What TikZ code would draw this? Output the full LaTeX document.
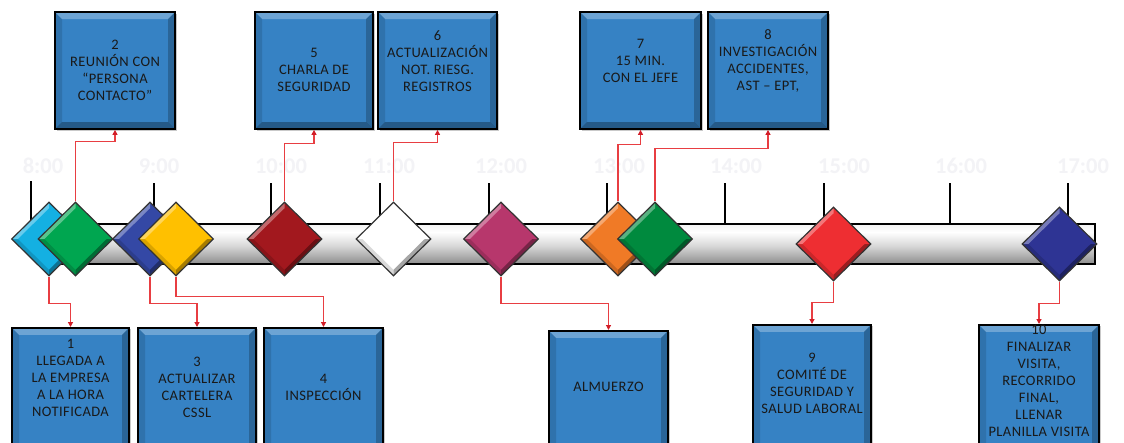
\documentclass[tikz,border=0pt]{standalone}
\usepackage{fontspec}
\setmainfont{Carlito}
\usetikzlibrary{shapes.geometric,arrows.meta,shadows}
\definecolor{boxblue}{RGB}{54,130,196}
\definecolor{conred}{RGB}{232,62,66}
\definecolor{tipred}{RGB}{210,30,40}
\definecolor{cCyan}{RGB}{20,176,226}
\definecolor{cGreen}{RGB}{0,166,80}
\definecolor{cBlue}{RGB}{52,72,165}
\definecolor{cYellow}{RGB}{255,192,0}
\definecolor{cDarkRed}{RGB}{162,24,30}
\definecolor{cWhite}{RGB}{255,255,255}
\definecolor{cMagenta}{RGB}{183,55,108}
\definecolor{cOrange}{RGB}{240,122,38}
\definecolor{cGreenB}{RGB}{0,138,62}
\definecolor{cRed}{RGB}{238,46,50}
\definecolor{cNavy}{RGB}{46,52,148}
\definecolor{lblgray}{RGB}{243,243,246}
\pgfdeclareverticalshading{barshade}{100bp}{color(0bp)=(black!55); color(8bp)=(black!72); color(25bp)=(black!45); color(48bp)=(black!15); color(65bp)=(white); color(82bp)=(black!8); color(100bp)=(black!35)}
\tikzset{
  evbox/.style={draw=black, line width=1.8pt, fill=boxblue, inner sep=0pt,
    drop shadow={shadow xshift=1.5pt,shadow yshift=-1.5pt,opacity=.35,fill=black!60},
    path picture={
      \fill[white,opacity=.28] (path picture bounding box.north west) -- (path picture bounding box.north east) -- ([xshift=-7pt,yshift=-7pt]path picture bounding box.north east) -- ([xshift=7pt,yshift=-7pt]path picture bounding box.north west) -- cycle;
      \fill[black,opacity=.12] (path picture bounding box.north west) -- ([xshift=7pt,yshift=-7pt]path picture bounding box.north west) -- ([xshift=7pt,yshift=7pt]path picture bounding box.south west) -- (path picture bounding box.south west) -- cycle;
      \fill[black,opacity=.22] (path picture bounding box.north east) -- ([xshift=-7pt,yshift=-7pt]path picture bounding box.north east) -- ([xshift=-7pt,yshift=7pt]path picture bounding box.south east) -- (path picture bounding box.south east) -- cycle;
      \fill[black,opacity=.3] (path picture bounding box.south west) -- ([xshift=7pt,yshift=7pt]path picture bounding box.south west) -- ([xshift=-7pt,yshift=7pt]path picture bounding box.south east) -- (path picture bounding box.south east) -- cycle;
    }},
  txt/.style={align=center, font=\fontsize{14.5}{17}\selectfont\addfontfeatures{LetterSpace=3}, inner sep=0pt, text=black!90},
  tlbl/.style={font=\fontsize{22.5}{27}\selectfont\bfseries, text=lblgray, inner sep=0pt},
  tickline/.style={draw=black, line width=1.8pt},
  gem/.style={diamond, draw=black!80, line width=1.2pt, fill=#1, minimum width=75pt, minimum height=74pt, inner sep=0pt,
    path picture={
      \fill[white,opacity=.35] (path picture bounding box.west) -- (path picture bounding box.north) -- ([yshift=-6pt]path picture bounding box.north) -- ([xshift=6pt]path picture bounding box.west) -- cycle;
      \fill[black,opacity=.35] (path picture bounding box.east) -- (path picture bounding box.south) -- ([yshift=6pt]path picture bounding box.south) -- ([xshift=-6pt]path picture bounding box.east) -- cycle;
      \fill[black,opacity=.15] (path picture bounding box.west) -- (path picture bounding box.south) -- ([yshift=6pt]path picture bounding box.south) -- ([xshift=6pt]path picture bounding box.west) -- cycle;
    }},
  conn/.style={draw=conred, line width=1.2pt, -{Triangle[length=5pt,width=5pt,color=tipred]}}
}
\begin{document}
\begin{tikzpicture}[x=1pt,y=1pt]
\useasboundingbox (0,0) rectangle (1124,-442);
\clip (0,0) rectangle (1124,-442);
\fill[white] (0,0) rectangle (1124,-442);

% time labels
\node[tlbl] (h8)  at (43,-166)  {8:00};
\node[tlbl] (h9)  at (159,-166) {9:00};
\node[tlbl] (h10) at (281,-166) {10:00};
\node[tlbl] (h11) at (389,-166) {11:00};
\node[tlbl] (h12) at (501,-166) {12:00};
\node[tlbl] (h13) at (619,-166) {13:00};
\node[tlbl] (h14) at (736,-166) {14:00};
\node[tlbl] (h15) at (844,-166) {15:00};
\node[tlbl] (h16) at (961,-166) {16:00};
\node[tlbl] (h17) at (1083,-166) {17:00};

% ticks
\foreach \tx in {154,271,380,489,607,725,824,950,1068}
  \draw[tickline] (\tx,-183) -- (\tx,-225);
\draw[tickline] (31,-181) -- (31,-225);

% bar
\shade[shading=barshade] (40,-224) rectangle (1095,-264);
\draw[black, line width=1.5pt] (40,-224) rectangle (1095,-264);

% diamonds
\node[gem=cCyan]    (m1)  at (49,-239)    {};
\node[gem=cGreen]   (m2)  at (75.5,-239)  {};
\node[gem=cBlue]    (m3)  at (150,-239)   {};
\node[gem=cYellow]  (m4)  at (176,-239)   {};
\node[gem=cDarkRed] (m5)  at (284.5,-239) {};
\node[gem=cWhite]   (m6)  at (393.5,-239) {};
\node[gem=cMagenta] (mA)  at (501,-239)   {};
\node[gem=cOrange]  (m7)  at (618,-239)   {};
\node[gem=cGreenB]  (m8)  at (655,-239)   {};
\node[gem=cRed]     (m9)  at (833.5,-244) {};
\node[gem=cNavy]    (m10) at (1059.5,-244) {};

% top boxes
\node[evbox, minimum width=120pt, minimum height=117pt] (b2) at (115,-70.5) {};
\node[evbox, minimum width=118pt, minimum height=117pt] (b5) at (314,-70.5) {};
\node[evbox, minimum width=119pt, minimum height=117pt] (b6) at (437.5,-70.5) {};
\node[evbox, minimum width=121pt, minimum height=117pt] (b7) at (640.5,-70.5) {};
\node[evbox, minimum width=120pt, minimum height=117pt] (b8) at (768,-70.5) {};
\node[txt] (t2) at (115,-70) {2\\REUNIÓN CON\\“PERSONA\\CONTACTO”};
\node[txt] (t5) at (314,-70) {5\\CHARLA DE\\SEGURIDAD};
\node[txt] (t6) at (437.5,-61) {6\\ACTUALIZACIÓN\\NOT. RIESG.\\REGISTROS};
\node[txt] (t7) at (640.5,-61) {7\\15 MIN.\\CON EL JEFE};
\node[txt] (t8) at (768,-61) {8\\INVESTIGACIÓN\\ACCIDENTES,\\AST – EPT,};

% bottom boxes
\node[evbox, anchor=north, minimum width=117pt, minimum height=160pt] (b1) at (70.5,-327) {};
\node[evbox, anchor=north, minimum width=118pt, minimum height=160pt] (b3) at (197,-327) {};
\node[evbox, anchor=north, minimum width=119pt, minimum height=160pt] (b4) at (323.5,-327) {};
\node[evbox, anchor=north, minimum width=119pt, minimum height=160pt] (bA) at (608.5,-330) {};
\node[evbox, anchor=north, minimum width=118pt, minimum height=160pt] (b9) at (812,-324) {};
\node[evbox, anchor=north, minimum width=120pt, minimum height=160pt] (b10) at (1039,-324) {};
\node[txt] (t1) at (70.5,-378) {1\\LLEGADA A\\LA EMPRESA\\A LA HORA\\NOTIFICADA};
\node[txt] (t3) at (197,-387) {3\\ACTUALIZAR\\CARTELERA\\CSSL};
\node[txt] (t4) at (323.5,-387) {4\\INSPECCIÓN};
\node[txt] (tA) at (608.5,-387) {ALMUERZO};
\node[txt] (t9) at (812,-383) {9\\COMITÉ DE\\SEGURIDAD Y\\SALUD LABORAL};
\node[txt] (t10) at (1039,-381) {10\\FINALIZAR\\VISITA,\\RECORRIDO\\FINAL,\\LLENAR\\PLANILLA VISITA};

% connectors up
\draw[conn] (m2.north) -- ++(0,60) -| (b2.south);
\draw[conn] (m5.north) -- ++(0,58) -| (b5.south);
\draw[conn] (m6.north) -- ++(0,59) -| (b6.south);
\draw[conn] (m7.north) -- ++(0,57) -| (b7.south);
\draw[conn] (m8.north) -- ++(0,53) -| (b8.south);
% connectors down
\draw[conn] (m1.south) -- ++(0,-27) -| (b1.north);
\draw[conn] (m3.south) -- ++(0,-27) -| (b3.north);
\draw[conn] (m4.south) -- ++(0,-20) -| (b4.north);
\draw[conn] (mA.south) -- ++(0,-27) -| (bA.north);
\draw[conn] (m9.south) -- ++(0,-21) -| (b9.north);
\draw[conn] (m10.south) -- ++(0,-22) -| (b10.north);
\end{tikzpicture}
\end{document}
